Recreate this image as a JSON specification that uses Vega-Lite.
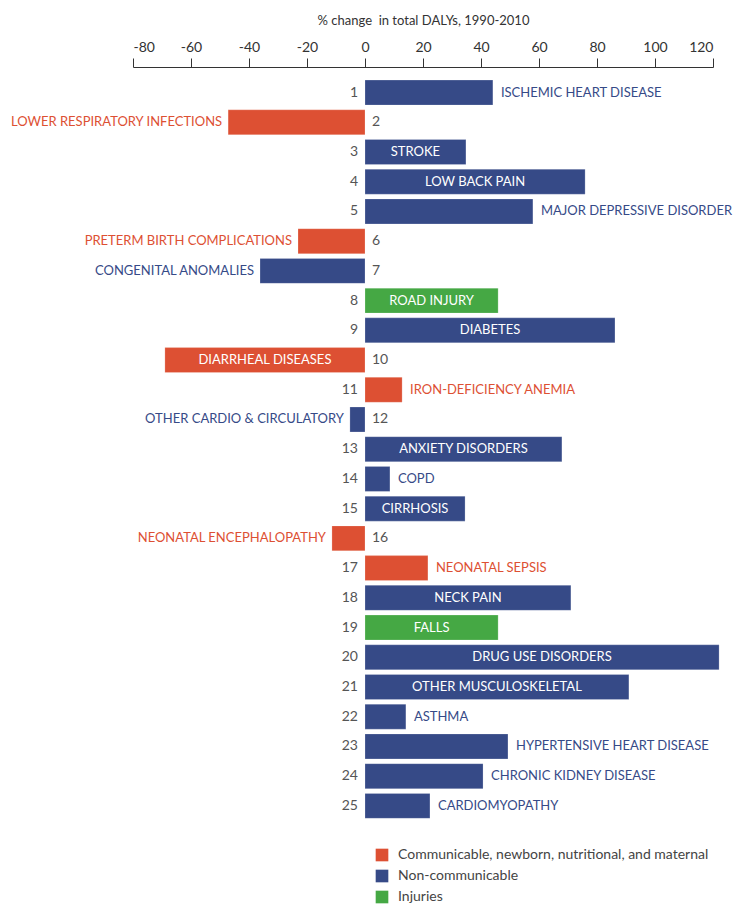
{
  "$schema": "https://vega.github.io/schema/vega-lite/v6.json",
  "width": 580,
  "height": 768,
  "autosize": {"type": "none"},
  "padding": {"left": 133, "top": 67, "right": 30, "bottom": 70},
  "background": "white",
  "config": {
    "view": {"stroke": null},
    "font": "Lato",
    "text": {"font": "Lato", "fontSize": 13, "baseline": "middle"}
  },
  "data": {
    "values": [
      {"rank": 1, "name": "ISCHEMIC HEART DISEASE", "value": 44.1, "cat": "Non-communicable"},
      {"rank": 2, "name": "LOWER RESPIRATORY INFECTIONS", "value": -47.2, "cat": "Communicable, newborn, nutritional, and maternal"},
      {"rank": 3, "name": "STROKE", "value": 34.8, "cat": "Non-communicable"},
      {"rank": 4, "name": "LOW BACK PAIN", "value": 75.9, "cat": "Non-communicable"},
      {"rank": 5, "name": "MAJOR DEPRESSIVE DISORDER", "value": 57.9, "cat": "Non-communicable"},
      {"rank": 6, "name": "PRETERM BIRTH COMPLICATIONS", "value": -23.1, "cat": "Communicable, newborn, nutritional, and maternal"},
      {"rank": 7, "name": "CONGENITAL ANOMALIES", "value": -36.2, "cat": "Non-communicable"},
      {"rank": 8, "name": "ROAD INJURY", "value": 45.9, "cat": "Injuries"},
      {"rank": 9, "name": "DIABETES", "value": 86.2, "cat": "Non-communicable"},
      {"rank": 10, "name": "DIARRHEAL DISEASES", "value": -69.0, "cat": "Communicable, newborn, nutritional, and maternal"},
      {"rank": 11, "name": "IRON-DEFICIENCY ANEMIA", "value": 12.8, "cat": "Communicable, newborn, nutritional, and maternal"},
      {"rank": 12, "name": "OTHER CARDIO & CIRCULATORY", "value": -5.2, "cat": "Non-communicable"},
      {"rank": 13, "name": "ANXIETY DISORDERS", "value": 67.9, "cat": "Non-communicable"},
      {"rank": 14, "name": "COPD", "value": 8.6, "cat": "Non-communicable"},
      {"rank": 15, "name": "CIRRHOSIS", "value": 34.5, "cat": "Non-communicable"},
      {"rank": 16, "name": "NEONATAL ENCEPHALOPATHY", "value": -11.4, "cat": "Communicable, newborn, nutritional, and maternal"},
      {"rank": 17, "name": "NEONATAL SEPSIS", "value": 21.7, "cat": "Communicable, newborn, nutritional, and maternal"},
      {"rank": 18, "name": "NECK PAIN", "value": 71.0, "cat": "Non-communicable"},
      {"rank": 19, "name": "FALLS", "value": 45.9, "cat": "Injuries"},
      {"rank": 20, "name": "DRUG USE DISORDERS", "value": 122.1, "cat": "Non-communicable"},
      {"rank": 21, "name": "OTHER MUSCULOSKELETAL", "value": 91.0, "cat": "Non-communicable"},
      {"rank": 22, "name": "ASTHMA", "value": 14.1, "cat": "Non-communicable"},
      {"rank": 23, "name": "HYPERTENSIVE HEART DISEASE", "value": 49.3, "cat": "Non-communicable"},
      {"rank": 24, "name": "CHRONIC KIDNEY DISEASE", "value": 40.7, "cat": "Non-communicable"},
      {"rank": 25, "name": "CARDIOMYOPATHY", "value": 22.4, "cat": "Non-communicable"}
    ]
  },
  "resolve": {"scale": {"x": "independent"}, "axis": {"x": "independent"}},
  "layer": [
    {
      "encoding": {
        "y": {
          "field": "rank", "type": "ordinal", "sort": "ascending", "axis": null,
          "scale": {"paddingInner": 0.16, "paddingOuter": 0.5, "align": 0.44}
        }
      },
      "layer": [
        {
          "mark": {"type": "bar", "stroke": "white", "strokeOpacity": 0.35, "strokeWidth": 0.6},
          "encoding": {
            "x": {
              "field": "value", "type": "quantitative",
              "scale": {"domain": [-80, 120], "nice": false, "zero": false},
              "axis": {
                "orient": "top", "title": "% change \u00a0in total DALYs, 1990-2010",
                "values": [-80, -60, -40, -20, 0, 20, 40, 60, 80, 100, 120],
                "labelExpr": "'' + datum.value",
                "grid": false, "domainColor": "#333", "tickColor": "#333",
                "tickSize": 9, "labelPadding": 4, "labelFontSize": 14, "labelColor": "#333",
                "labelFont": "Lato", "titleFont": "Lato", "titleFontSize": 13,
                "titleFontWeight": "normal", "titleColor": "#333", "titlePadding": 13
              }
            },
            "x2": {"datum": 0},
            "color": {
              "field": "cat", "type": "nominal",
              "scale": {
                "domain": ["Communicable, newborn, nutritional, and maternal", "Non-communicable", "Injuries"],
                "range": ["#dd5033", "#364a87", "#45a844"]
              },
              "legend": {
                "title": null, "orient": "none", "legendX": 242, "legendY": 781,
                "symbolType": "square", "symbolSize": 160, "symbolStrokeWidth": 0,
                "labelFontSize": 14, "labelColor": "#444", "labelFont": "Lato",
                "labelLimit": 0, "rowPadding": 7, "labelOffset": 9
              }
            }
          }
        },
        {
          "mark": {"type": "rule", "color": "#555", "strokeWidth": 1.2},
          "encoding": {"x": {"datum": 0}}
        },
        {
          "transform": [{"filter": "datum.value > 0"}],
          "mark": {"type": "text", "align": "right", "dx": -7, "color": "#555", "fontSize": 14},
          "encoding": {"x": {"datum": 0}, "text": {"field": "rank"}}
        },
        {
          "transform": [{"filter": "datum.value < 0"}],
          "mark": {"type": "text", "align": "left", "dx": 7, "color": "#555", "fontSize": 14},
          "encoding": {"x": {"datum": 0}, "text": {"field": "rank"}}
        },
        {
          "transform": [
            {"filter": "datum.value > 0"},
            {"filter": {"not": {"field": "name", "oneOf": ["STROKE", "LOW BACK PAIN", "ROAD INJURY", "DIABETES", "ANXIETY DISORDERS", "CIRRHOSIS", "NECK PAIN", "FALLS", "DRUG USE DISORDERS", "OTHER MUSCULOSKELETAL"]}}}
          ],
          "mark": {"type": "text", "align": "left", "dx": 8},
          "encoding": {
            "x": {"field": "value", "type": "quantitative"},
            "text": {"field": "name"},
            "color": {"field": "cat", "type": "nominal"}
          }
        },
        {
          "transform": [
            {"filter": "datum.value < 0"},
            {"filter": {"not": {"field": "name", "oneOf": ["DIARRHEAL DISEASES"]}}}
          ],
          "mark": {"type": "text", "align": "right", "dx": -6},
          "encoding": {
            "x": {"field": "value", "type": "quantitative"},
            "text": {"field": "name"},
            "color": {"field": "cat", "type": "nominal"}
          }
        }
      ]
    },
    {
      "transform": [
        {"filter": {"field": "name", "oneOf": ["STROKE", "LOW BACK PAIN", "ROAD INJURY", "DIABETES", "DIARRHEAL DISEASES", "ANXIETY DISORDERS", "CIRRHOSIS", "NECK PAIN", "FALLS", "DRUG USE DISORDERS", "OTHER MUSCULOSKELETAL"]}}
      ],
      "mark": {"type": "text", "align": "center", "color": "white"},
      "encoding": {
        "y": {
          "field": "rank", "type": "ordinal", "sort": "ascending", "axis": null,
          "scale": {"paddingInner": 0.16, "paddingOuter": 0.5, "align": 0.44}
        },
        "x": {
          "field": "value", "type": "quantitative", "axis": null,
          "scale": {"domain": [-160, 240], "nice": false, "zero": false}
        },
        "text": {"field": "name"}
      }
    }
  ]
}
